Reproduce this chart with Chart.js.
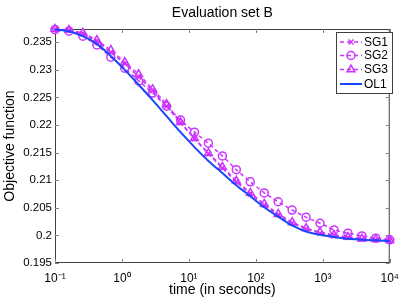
<!DOCTYPE html>
<html>
<head>
<meta charset="utf-8">
<script src="https://cdn.jsdelivr.net/npm/chart.js@4.4.1/dist/chart.umd.min.js"></script>
<style>
  body { margin: 0; background: #fff; }
  canvas { display: block; }
</style>
</head>
<body>
<canvas id="evalChart" width="407" height="300"></canvas>
<script>
// time points (seconds), log spaced 0.1 .. 1e4
const times = [0.1, 0.1615, 0.261, 0.4217, 0.6813, 1.1007, 1.7783, 2.873, 4.6416, 7.4989,
  12.115, 19.573, 31.623, 51.09, 82.54, 133.35, 215.44, 348.07, 562.34, 908.52,
  1467.8, 2371.4, 3831.2, 6189.7, 10000];

const sg1 = [0.2373, 0.2372, 0.2365, 0.2352, 0.2332, 0.2311, 0.2287, 0.2262, 0.2234, 0.2204,
  0.2175, 0.2148, 0.2122, 0.2097, 0.2075, 0.2055, 0.2037, 0.2022, 0.2012, 0.2004,
  0.1999, 0.1996, 0.1993, 0.1992, 0.1991];
const sg2 = [0.2373, 0.2370, 0.2361, 0.2345, 0.2323, 0.2303, 0.2280, 0.2258, 0.2234, 0.2209,
  0.2187, 0.2167, 0.2144, 0.2119, 0.2097, 0.2077, 0.2061, 0.2046, 0.2033, 0.2022,
  0.2010, 0.2004, 0.1999, 0.1995, 0.1992];
const sg3 = [0.2374, 0.2372, 0.2367, 0.2354, 0.2336, 0.2314, 0.2292, 0.2265, 0.2238, 0.2205,
  0.2176, 0.2149, 0.2124, 0.2099, 0.2077, 0.2057, 0.2039, 0.2024, 0.2013, 0.2006,
  0.2001, 0.1997, 0.1994, 0.1993, 0.1991];
const ol1 = [0.2373, 0.2370, 0.2361, 0.2347, 0.2325, 0.2300, 0.2273, 0.2245, 0.2216, 0.2187,
  0.2160, 0.2135, 0.2113, 0.2091, 0.2071, 0.2051, 0.2034, 0.2018, 0.2007, 0.2001,
  0.1997, 0.1994, 0.1992, 0.1991, 0.1990];

const xTicks = [0.1, 1, 10, 100, 1000, 10000];
const xTickLabels = ["10\u207B\u00B9", "10\u2070", "10\u00B9", "10\u00B2", "10\u00B3", "10\u2074"];
const yTicks = [0.195, 0.2, 0.205, 0.21, 0.215, 0.22, 0.225, 0.23, 0.235];
const yTickLabels = ["0.195", "0.2", "0.205", "0.21", "0.215", "0.22", "0.225", "0.23", "0.235"];

const MAG = "rgb(204,51,255)";
const BLUE = "rgb(25,70,255)";
const FONT = "'Liberation Sans', Arial, Helvetica, sans-serif";

const pts = arr => arr.map((v, i) => ({ x: times[i], y: v }));

const seriesStyle = [
  { label: "SG1", data: sg1, color: MAG, dash: [4, 3], point: "crossRot", r: 3.5, order: 4 },
  { label: "SG2", data: sg2, color: MAG, dash: [4, 3], point: "circle", r: 4, order: 3 },
  { label: "SG3", data: sg3, color: MAG, dash: [4, 3], point: "triangle", r: 4.5, order: 2 },
  { label: "OL1", data: ol1, color: BLUE, dash: [], point: false, r: 0, order: 1 }
];

// box, inward ticks, title, legend
const frame = {
  id: "frame",
  beforeDatasetsDraw(chart) {
    const { ctx, chartArea: a, scales } = chart;
    ctx.save();
    ctx.strokeStyle = "#404040";
    ctx.lineWidth = 1;
    ctx.strokeRect(a.left + 0.5, a.top + 0.5, a.right - a.left - 1, a.bottom - a.top - 1);
    ctx.strokeStyle = "#808080";
    ctx.beginPath();
    xTicks.forEach(v => {
      const px = Math.round(scales.x.getPixelForValue(v)) + 0.5;
      ctx.moveTo(px, a.bottom); ctx.lineTo(px, a.bottom - 4);
      ctx.moveTo(px, a.top); ctx.lineTo(px, a.top + 4);
    });
    yTicks.forEach(v => {
      const py = Math.round(scales.y.getPixelForValue(v)) + 0.5;
      ctx.moveTo(a.left, py); ctx.lineTo(a.left + 4, py);
      ctx.moveTo(a.right, py); ctx.lineTo(a.right - 4, py);
    });
    ctx.stroke();
    ctx.restore();
  },
  afterDraw(chart) {
    const ctx = chart.ctx;
    ctx.save();
    ctx.fillStyle = "#000";
    ctx.font = "14px " + FONT;
    ctx.textAlign = "center";
    ctx.textBaseline = "middle";
    ctx.fillText("Evaluation set B", (chart.chartArea.left + chart.chartArea.right) / 2, 13);

    const bx = 336, by = 32, bw = 56, bh = 61;
    ctx.fillStyle = "#fff";
    ctx.fillRect(bx, by, bw, bh);
    ctx.strokeStyle = "#404040";
    ctx.lineWidth = 1;
    ctx.strokeRect(bx + 0.5, by + 0.5, bw, bh);
    const rows = [42, 55.5, 69.5, 84];
    seriesStyle.forEach((s, i) => {
      const y = rows[i];
      ctx.strokeStyle = s.color;
      ctx.lineWidth = s.point ? 1.5 : 2;
      ctx.setLineDash(s.dash);
      ctx.beginPath();
      ctx.moveTo(340, y); ctx.lineTo(362, y);
      ctx.stroke();
      ctx.setLineDash([]);
      if (s.point) {
        ctx.fillStyle = "rgba(0,0,0,0)";
        ctx.strokeStyle = s.color;
        ctx.lineWidth = 1.5;
        Chart.helpers.drawPoint(ctx, {
          pointStyle: s.point, radius: s.r, rotation: 0, borderWidth: 1.5
        }, 351, y);
      }
      ctx.fillStyle = "#000";
      ctx.font = "12px " + FONT;
      ctx.textAlign = "left";
      ctx.fillText(s.label, 364, y + 0.5);
    });
    ctx.restore();
  }
};

new Chart(document.getElementById("evalChart"), {
  type: "line",
  data: {
    datasets: seriesStyle.map(s => ({
      label: s.label,
      data: pts(s.data),
      borderColor: s.color,
      backgroundColor: "rgba(0,0,0,0)",
      borderWidth: s.point ? 1.5 : 2,
      borderDash: s.dash,
      pointStyle: s.point || "circle",
      pointRadius: s.r,
      pointBorderWidth: 1.5,
      pointBorderColor: s.color,
      pointBackgroundColor: "rgba(0,0,0,0)",
      tension: 0,
      cubicInterpolationMode: s.point ? "default" : "monotone",
      clip: false,
      order: s.order
    }))
  },
  options: {
    responsive: false,
    animation: false,
    layout: { padding: { top: 29, right: 12, left: 0, bottom: 0 } },
    plugins: { legend: { display: false }, tooltip: { enabled: false }, title: { display: false } },
    scales: {
      x: {
        type: "logarithmic",
        min: 0.1,
        max: 10000,
        afterBuildTicks: s => { s.ticks = xTicks.map(v => ({ value: v })); },
        afterFit: s => { s.height = 37; },
        grid: { display: false, drawTicks: false },
        border: { display: false },
        ticks: {
          autoSkip: false, maxRotation: 0, padding: 8,
          color: "#000", font: { size: 12, family: FONT },
          callback: (v, i) => xTickLabels[i]
        },
        title: {
          display: true, text: "time (in seconds)", color: "#000",
          font: { size: 14, family: FONT }, padding: { top: 0, bottom: 1 }
        }
      },
      y: {
        type: "linear",
        min: 0.195,
        max: 0.2374,
        afterBuildTicks: s => { s.ticks = yTicks.map(v => ({ value: v })); },
        afterFit: s => { s.width = 55; },
        grid: { display: false, drawTicks: false },
        border: { display: false },
        ticks: {
          autoSkip: false, padding: 3,
          color: "#000", font: { size: 11.5, family: FONT },
          callback: (v, i) => yTickLabels[i]
        },
        title: {
          display: true, text: "Objective function", color: "#000",
          font: { size: 14, family: FONT }, padding: { top: 2, bottom: 2 }
        }
      }
    }
  },
  plugins: [frame]
});
</script>
</body>
</html>
